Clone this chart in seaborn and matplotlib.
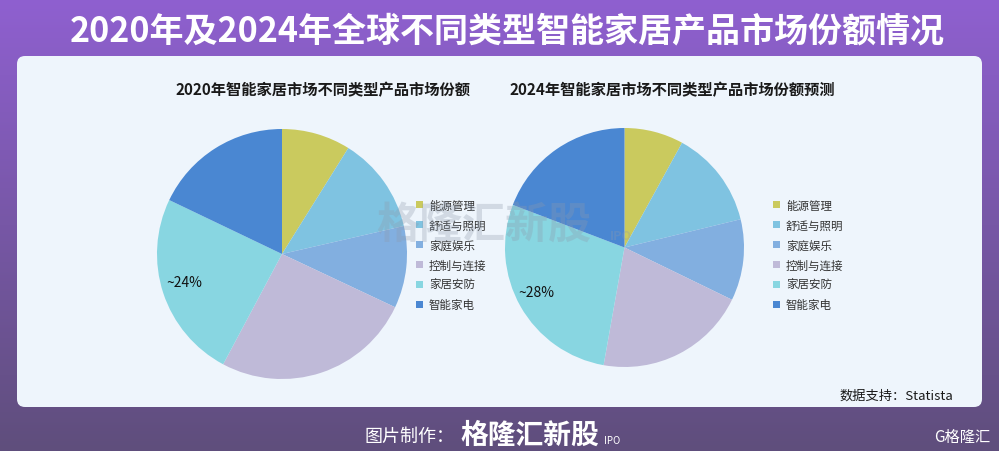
import numpy as np
import matplotlib
matplotlib.use("Agg")
import matplotlib.pyplot as plt
from matplotlib.patches import FancyBboxPatch
import seaborn as sns

categories = ["能源管理", "舒适与照明", "家庭娱乐", "控制与连接", "家居安防", "智能家电"]
share_2020 = [8.9, 12.5, 10.6, 25.8, 24.3, 17.9]
share_2024 = [8.0, 13.2, 11.0, 20.6, 28.0, 19.2]
label_2020 = "~24%"
label_2024 = "~28%"
colors = ["#CACA5E", "#7FC3E1", "#82AFE0", "#BFBAD8", "#88D6E1", "#4A87D2"]

title = "2020年及2024年全球不同类型智能家居产品市场份额情况"
sub_2020 = "2020年智能家居市场不同类型产品市场份额"
sub_2024 = "2024年智能家居市场不同类型产品市场份额预测"
source = "数据支持：Statista"

sns.set_theme(style="white")
plt.rcParams['font.family'] = ['Noto Sans CJK SC', 'DejaVu Sans']

W, H = 999, 452
fig = plt.figure(figsize=(W / 100, H / 100), dpi=100)


def fx(x):
    return x / W


def fy(y):
    return 1 - y / H


# background gradient
bg = fig.add_axes([0, 0, 1, 1])
top = np.array([143, 96, 208]) / 255
bot = np.array([95, 78, 124]) / 255
t = np.linspace(0, 1, 256)[:, None]
grad = top * (1 - t) + bot * t
bg.imshow(grad[:, None, :].repeat(2, axis=1), aspect="auto", extent=[0, W, H, 0])
bg.set_xlim(0, W)
bg.set_ylim(H, 0)
bg.axis("off")

# panel
panel = FancyBboxPatch((17, 57), 965, 351, boxstyle="round,pad=0,rounding_size=8",
                       facecolor="#EEF5FC", edgecolor="none")
bg.add_patch(panel)

bg.text(W / 2 + 8, 31, title, color="white", fontsize=24.5, fontweight="bold",
        ha="center", va="center")
bg.text(323, 90, sub_2020, color="#1a1a1a", fontsize=11, fontweight="bold",
        ha="center", va="center")
bg.text(672, 90, sub_2024, color="#1a1a1a", fontsize=11, fontweight="bold",
        ha="center", va="center")
bg.text(953, 396, source, color="#1a1a1a", fontsize=9.5, ha="right", va="center")

# footer
bg.text(455, 437, "图片制作：", color="white", fontsize=13, ha="right", va="center")
bg.text(460, 436, "格隆汇新股", color="white", fontsize=20, fontweight="bold",
        style="italic", ha="left", va="center")
bg.text(604, 441, "IPO", color="white", fontsize=7, style="italic", ha="left", va="center")
bg.text(990, 437, "G格隆汇", color="white", fontsize=11, ha="right", va="center")


def draw_pie(rect, values, label, label_xy, legend_anchor):
    ax = fig.add_axes(rect)
    wedges, _ = ax.pie(values, colors=colors, startangle=90, counterclock=False,
                       radius=1, wedgeprops=dict(linewidth=0))
    ax.set_xlim(-1, 1)
    ax.set_ylim(-1, 1)
    ax.set_aspect("equal")
    ax.axis("off")
    fig.text(fx(label_xy[0]), fy(label_xy[1]), label, fontsize=10, color="#111111",
             ha="left", va="center", zorder=5)
    fig.legend(wedges, categories, loc="center left", bbox_to_anchor=legend_anchor,
               frameon=False, fontsize=8.3, handlelength=0.6, handleheight=0.6,
               handletextpad=0.5, labelspacing=0.6, labelcolor="#333333")
    return ax


draw_pie([fx(157), fy(380), 250 / W, 250 / H], share_2020, label_2020,
         (166, 283), (fx(406), fy(256)))
draw_pie([fx(505), fy(368), 239 / W, 239 / H], share_2024, label_2024,
         (518, 293), (fx(763), fy(256)))

# watermark
fig.text(fx(484), fy(226), "格隆汇新股", color="#8e9aab", alpha=0.3, fontsize=31,
         fontweight="bold", style="italic", ha="center", va="center", zorder=10)
fig.text(fx(610), fy(236), "IPO", color="#8e9aab", alpha=0.3, fontsize=9,
         fontweight="bold", style="italic", ha="left", va="center", zorder=10)

fig.savefig("out.png", dpi=100)
